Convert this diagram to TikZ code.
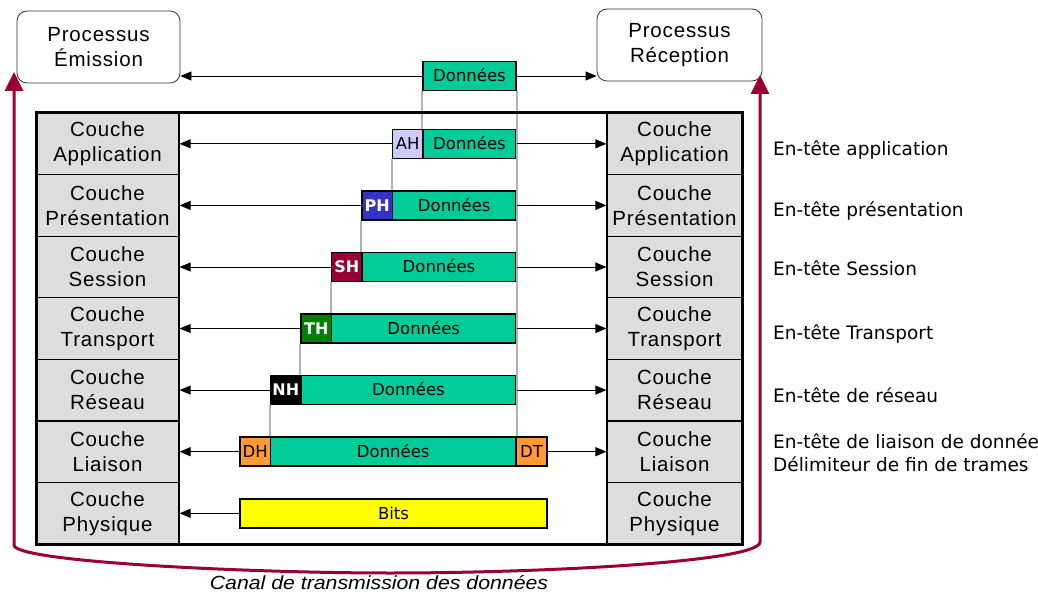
\documentclass[tikz,border=0pt]{standalone}
\usepackage{graphicx}
\usepackage{fontspec}
\setmainfont{Liberation Sans}
\newfontfamily\comicf{DejaVu Sans}
\newfontfamily\cellf[LetterSpace=4]{Liberation Sans}
\usetikzlibrary{arrows.meta}
\definecolor{cellgray}{RGB}{221,221,221}
\definecolor{dgreen}{RGB}{0,204,153}
\definecolor{lav}{RGB}{204,204,255}
\definecolor{phblue}{RGB}{51,51,204}
\definecolor{maroon}{RGB}{153,0,51}
\definecolor{thgreen}{RGB}{0,128,0}
\definecolor{orng}{RGB}{255,153,51}
\definecolor{yel}{RGB}{255,255,0}
\begin{document}
\begin{tikzpicture}[x=1pt,y=-1pt,
  cell/.style={draw, line width=1.2pt, fill=cellgray, inner sep=0pt, align=center,
    font=\cellf\fontsize{20.5}{25}\selectfont, minimum height=61.57pt},
  lcell/.style={cell, minimum width=143pt},
  rcell/.style={cell, minimum width=135pt},
  box/.style={draw, line width=1.5pt, inner sep=0pt, minimum height=29pt,
    text height=11.5pt, text depth=0pt, font=\comicf\fontsize{16.5}{18}\selectfont},
  dbox/.style={box, fill=dgreen},
  hbold/.style={font=\comicf\bfseries\fontsize{16}{18}\selectfont, text=white},
  arr/.style={-{Triangle[length=11pt,width=9pt]}, line width=0.8pt},
  glink/.style={draw=black!30, line width=1.6pt},
  lbl/.style={anchor=west, inner sep=0pt, text height=13.5pt, text depth=0pt,
    font=\comicf\fontsize{18.5}{22}\selectfont},
  proc/.style={draw=black!80, line width=0.8pt, rounded corners=10pt, inner sep=0pt,
    align=center, font=\cellf\fontsize{20.5}{25}\selectfont},
  marr/.style={draw=maroon, line width=3pt,
    {Triangle[length=19pt,width=18pt]}-{Triangle[length=19pt,width=18pt]}}
]
\useasboundingbox (0,0) rectangle (1038,593);

% process boxes
\node[proc, minimum width=163pt, minimum height=72pt] (emi) at (98.5,47) {Processus\\Émission};
\node[proc, minimum width=165pt, minimum height=72pt] (rec) at (679.5,45) {Processus\\Réception};

% top data
\node[dbox, minimum width=93pt] (d0) at (469.5,76) {Données};

% layer data boxes
\node[box, fill=lav, minimum width=30.5pt] (ah) at (407.75,143.8) {AH};
\node[dbox, minimum width=93pt] (d1) at (469.5,143.8) {Données};
\node[box, fill=phblue, hbold, minimum width=30.5pt] (ph) at (377.25,205.4) {PH};
\node[dbox, minimum width=123.5pt] (d2) at (454.25,205.4) {Données};
\node[box, fill=maroon, hbold, minimum width=30.5pt] (sh) at (346.75,267) {SH};
\node[dbox, minimum width=154pt] (d3) at (439,267) {Données};
\node[box, fill=thgreen, hbold, minimum width=30.5pt] (th) at (316.25,328.5) {TH};
\node[dbox, minimum width=184.5pt] (d4) at (423.75,328.5) {Données};
\node[box, fill=black, hbold, minimum width=30.5pt] (nh) at (285.75,390.1) {NH};
\node[dbox, minimum width=215pt] (d5) at (408.5,390.1) {Données};
\node[box, fill=orng, minimum width=30.5pt] (dh) at (255.25,451.7) {DH};
\node[dbox, minimum width=245.5pt] (d6) at (393.25,451.7) {Données};
\node[box, fill=orng, minimum width=31pt] (dt) at (531.5,451.7) {DT};
\node[box, fill=yel, minimum width=307pt] (bits) at (393.5,513.3) {Bits};

% gray guide lines
\draw[glink] (d0.south west) -- (d1.north west);
\draw[glink] (d0.south east) -- (d6.north east);
\draw[glink] (ah.south west) -- (d2.north west);
\draw[glink] (ph.south west) -- (d3.north west);
\draw[glink] (sh.south west) -- (d4.north west);
\draw[glink] (th.south west) -- (d5.north west);
\draw[glink] (nh.south west) -- (d6.north west);

% layer cells
\node[lcell] (l1) at (107.5,143.8) {Couche\\Application};
\node[lcell] (l2) at (107.5,205.4) {Couche\\Présentation};
\node[lcell] (l3) at (107.5,267) {Couche\\Session};
\node[lcell] (l4) at (107.5,328.5) {Couche\\Transport};
\node[lcell] (l5) at (107.5,390.1) {Couche\\Réseau};
\node[lcell] (l6) at (107.5,451.7) {Couche\\Liaison};
\node[lcell] (l7) at (107.5,513.3) {Couche\\Physique};
\node[rcell] (r1) at (674.5,143.8) {Couche\\Application};
\node[rcell] (r2) at (674.5,205.4) {Couche\\Présentation};
\node[rcell] (r3) at (674.5,267) {Couche\\Session};
\node[rcell] (r4) at (674.5,328.5) {Couche\\Transport};
\node[rcell] (r5) at (674.5,390.1) {Couche\\Réseau};
\node[rcell] (r6) at (674.5,451.7) {Couche\\Liaison};
\node[rcell] (r7) at (674.5,513.3) {Couche\\Physique};

% frame
\draw[line width=3pt] (36,113) rectangle (742,544);

% arrows
\draw[arr] (d0.west) -- (d0.west -| emi.east);
\draw[arr] (d0.east) -- (d0.east -| rec.west);
\draw[arr] (ah.west) -- (l1.east);
\draw[arr] (d1.east) -- (r1.west);
\draw[arr] (ph.west) -- (l2.east);
\draw[arr] (d2.east) -- (r2.west);
\draw[arr] (sh.west) -- (l3.east);
\draw[arr] (d3.east) -- (r3.west);
\draw[arr] (th.west) -- (l4.east);
\draw[arr] (d4.east) -- (r4.west);
\draw[arr] (nh.west) -- (l5.east);
\draw[arr] (d5.east) -- (r5.west);
\draw[arr] (dh.west) -- (l6.east);
\draw[arr] (dt.east) -- (r6.west);
\draw[arr] (bits.west) -- (l7.east);

% maroon channel
\coordinate (ltip) at (14,72);
\coordinate (rtip) at (760,75);
\draw[marr] (ltip) -- (14,545) .. controls (14,562) and (250,573) .. (390,573)
  .. controls (540,573) and (760,562) .. (760,542) -- (rtip);
\node[font=\itshape\fontsize{19}{22}\selectfont, inner sep=0pt] (canal) at (379,583)
  {\scalebox{1.12}[1]{Canal de transmission des données}};

% right labels
\node[lbl] (t1) at (773,149) {En-tête application};
\node[lbl] (t2) at (773,210) {En-tête présentation};
\node[lbl] (t3) at (773,269) {En-tête Session};
\node[lbl] (t4) at (773,333) {En-tête Transport};
\node[lbl] (t5) at (773,396) {En-tête de réseau};
\node[lbl] (t6) at (773,441.5) {En-tête de liaison de données};
\node[lbl] (t7) at (773,465) {Délimiteur de fin de trames};
\end{tikzpicture}
\end{document}
